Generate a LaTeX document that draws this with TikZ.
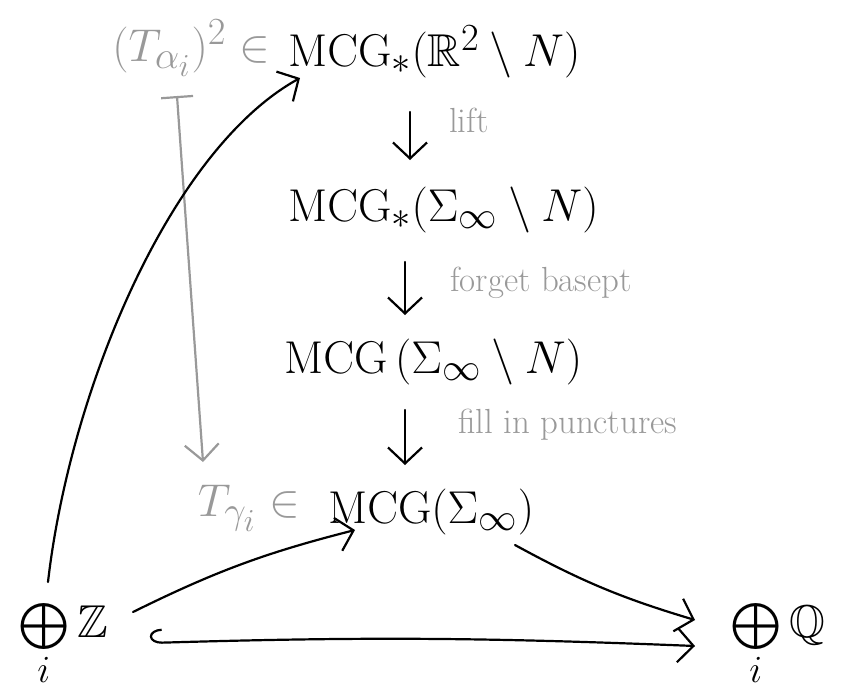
\documentclass[tikz,border=0pt]{standalone}
\usepackage{amsmath,amssymb}
\usetikzlibrary{arrows.meta}
\definecolor{pen}{gray}{0.6}
\newcommand{\bigtext}[1]{\scalebox{1.85}{#1}}
\newcommand{\notetext}[1]{\scalebox{1.4}{#1}}
\begin{document}
\begin{tikzpicture}[x=1pt,y=-1pt,
  lbl/.style={inner sep=0pt, font=\Huge},
  glbl/.style={lbl, text=pen},
  note/.style={inner sep=0pt, text=pen, font=\Huge, anchor=west},
  arr/.style={line width=2.2pt, line cap=round, -{Straight Barb[length=16pt,width=34pt,line width=2.2pt]}},
  garr/.style={arr, draw=pen}]
\useasboundingbox (0,0) rectangle (849,689);
% nodes
\node[lbl, anchor=west] (m1) at (288,52) {\bigtext{$\mathrm{MCG}_*(\mathbb{R}^2\setminus N)$}};
\node[glbl, anchor=east] (t1) at (270,48) {\bigtext{$(T_{\alpha_i})^2\in$}};
\node[lbl, anchor=west] (m2) at (288,210) {\bigtext{$\mathrm{MCG}_*(\Sigma_\infty\setminus N)$}};
\node[lbl, anchor=west] (m3) at (284,362) {\bigtext{$\mathrm{MCG}\,(\Sigma_\infty\setminus N)$}};
\node[lbl, anchor=west] (m4) at (328,512) {\bigtext{$\mathrm{MCG}(\Sigma_\infty)$}};
\node[glbl, anchor=east] (t4) at (300,508) {\bigtext{$T_{\gamma_i}\in$}};
\node[lbl, anchor=west] (z) at (18,645) {\bigtext{$\bigoplus\limits_i\mathbb{Z}$}};
\node[lbl, anchor=west] (q) at (730,645) {\bigtext{$\bigoplus\limits_i\mathbb{Q}$}};
% connector ends
\coordinate (a1s) at (410,112); \coordinate (a1e) at (410,160);
\coordinate (a2s) at (405,262); \coordinate (a2e) at (405,315);
\coordinate (a3s) at (405,410); \coordinate (a3e) at (405,465);
\coordinate (gs) at (177,96); \coordinate (ge) at (203,462);
\coordinate (c1s) at (48,582); \coordinate (c1e) at (300,78);
\coordinate (c2s) at (133,612); \coordinate (c2e) at (355,530);
\coordinate (c3s) at (515,545); \coordinate (c3e) at (695,620);
\coordinate (c4s) at (150,643); \coordinate (c4e) at (695,646);
% vertical maps
\draw[arr] (a1s) -- (a1e) node[note, pos=0.17, xshift=38pt] (n1) {\notetext{lift}};
\draw[arr] (a2s) -- (a2e) node[note, pos=0.4, xshift=44pt] (n2) {\notetext{forget basept}};
\draw[arr] (a3s) -- (a3e) node[note, pos=0.27, xshift=52pt] (n3) {\notetext{fill in punctures}};
% gray mapsto
\draw[garr, {Bar[width=32pt,line width=2.2pt]}-{Straight Barb[length=16pt,width=34pt,line width=2.2pt]}] (gs) -- (ge);
% curved maps
\draw[arr] (c1s) .. controls (70,390) and (170,150) .. (c1e);
\draw[arr] (c2s) to[bend left=6] (c2e);
\draw[arr] (c3s) to[bend right=6] (c3e);
\draw[arr, {Hooks[right,length=12pt,width=28pt,line width=2.2pt]}-{Straight Barb[length=16pt,width=34pt,line width=2.2pt]}] (c4s) to[bend left=2] (c4e);
\end{tikzpicture}
\end{document}
